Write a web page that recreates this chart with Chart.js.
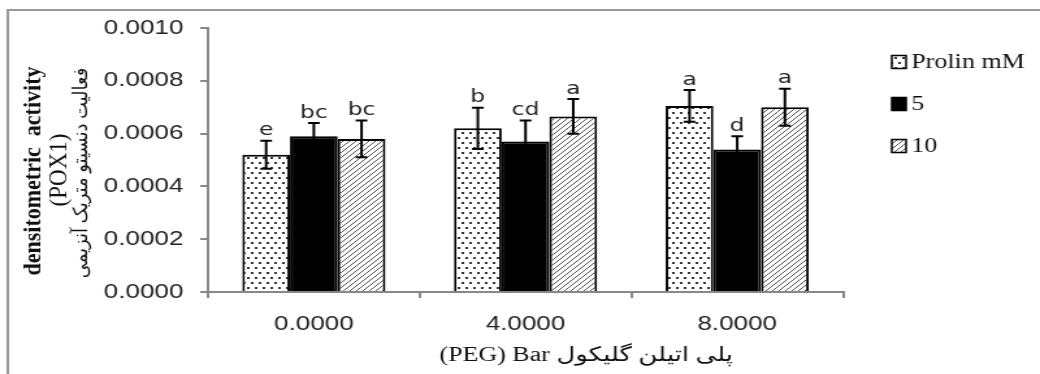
<!DOCTYPE html>
<html>
<head>
<meta charset="utf-8">
<script src="https://cdn.jsdelivr.net/npm/chart.js"></script>
<style>
  html, body { margin: 0; padding: 0; background: #fff; overflow: hidden; }
  /* the source picture is stretched sideways, so the whole chart is too */
  #wrap { width: 800px; height: 374px; transform: scaleX(1.3); transform-origin: 0 0; }
</style>
</head>
<body>
<div id="wrap"><canvas id="myChart"></canvas></div>
<script>
  // data
  var categories = ["0.0000", "4.0000", "8.0000"];
  var seriesNames = ["Prolin mM", "5", "10"];
  var prolin0 = [0.00052, 0.00062, 0.000705];
  var prolin5 = [0.00059, 0.00057, 0.00054];
  var prolin10 = [0.00058, 0.000665, 0.0007];
  var err0 = [0.000053, 0.000078, 0.00006];
  var err5 = [0.00005, 0.00008, 0.00005];
  var err10 = [0.00007, 0.000066, 0.00007];
  var letters0 = ["e", "b", "a"];
  var letters5 = ["bc", "cd", "d"];
  var letters10 = ["bc", "a", "a"];
  var yMin = 0, yMax = 0.001, yStep = 0.0002;

  var yTitle = ["densitometric  activity", "(POX1)", "فعالیت دنسیتو متریک آنزیمی"];
  // written in the order it is seen, left to right
  var xTitle = "(PEG) Bar پلی اتیلن گلیکول";

  //fill patterns
  function dotPattern() {
    var c = document.createElement('canvas');
    c.width = 6; c.height = 10;
    var g = c.getContext('2d');
    g.fillStyle = '#fff'; g.fillRect(0, 0, 6, 10);
    g.fillStyle = '#333';
    g.fillRect(1, 2, 2, 2);
    g.fillRect(4, 7, 2, 2);
    return g.createPattern(c, 'repeat');
  }
  function hatchPattern() {
    var c = document.createElement('canvas');
    c.width = 5; c.height = 5;
    var g = c.getContext('2d');
    g.fillStyle = '#fff'; g.fillRect(0, 0, 5, 5);
    g.strokeStyle = '#555'; g.lineWidth = 1;
    g.beginPath();
    g.moveTo(0, 5); g.lineTo(5, 0);
    g.moveTo(-1, 1); g.lineTo(1, -1);
    g.moveTo(4, 6); g.lineTo(6, 4);
    g.stroke();
    return g.createPattern(c, 'repeat');
  }

  var errors = [err0, err5, err10];
  var letters = [letters0, letters5, letters10];

  // frame round the picture
  var framePlugin = {
    id: 'frame',
    beforeDraw: function(chart) {
      var ctx = chart.ctx;
      ctx.save();
      ctx.strokeStyle = '#999'; ctx.lineWidth = 2;
      ctx.beginPath();
      ctx.moveTo(6, chart.height); ctx.lineTo(6, 10); ctx.lineTo(chart.width, 10);
      ctx.stroke();
      ctx.restore();
    }
  };

  // error bars + letters
  var errorPlugin = {
    id: 'errorBars',
    afterDatasetsDraw: function(chart) {
      var ctx = chart.ctx, y = chart.scales.y;
      ctx.save();
      chart.data.datasets.forEach(function(ds, i) {
        var meta = chart.getDatasetMeta(i);
        meta.data.forEach(function(bar, j) {
          var v = ds.data[j], e = errors[i][j];
          var top = y.getPixelForValue(v + e), bot = y.getPixelForValue(v - e);
          ctx.strokeStyle = '#000'; ctx.lineWidth = 2;
          ctx.beginPath();
          ctx.moveTo(bar.x, top); ctx.lineTo(bar.x, bot);
          ctx.moveTo(bar.x - 4.5, top); ctx.lineTo(bar.x + 4.5, top);
          ctx.moveTo(bar.x - 4.5, bot); ctx.lineTo(bar.x + 4.5, bot);
          ctx.stroke();
          ctx.fillStyle = '#222';
          ctx.font = '18px "DejaVu Sans"';
          ctx.textAlign = 'center'; ctx.textBaseline = 'bottom';
          ctx.fillText(letters[i][j], bar.x, top - 1);
        });
      });
      ctx.restore();
    }
  };

  // axis titles and legend
  var textPlugin = {
    id: 'texts',
    afterDraw: function(chart) {
      var ctx = chart.ctx;
      ctx.save();
      var lines = [
        { t: yTitle[0], f: 'bold 22px "Liberation Serif"', x: 26, y: 171 },
        { t: yTitle[1], f: '23px "Liberation Serif"', x: 45.5, y: 170 },
        { t: yTitle[2], f: '18px "Liberation Serif", "DejaVu Sans"', x: 62.5, y: 173 }
      ];
      ctx.fillStyle = '#111';
      ctx.textAlign = 'center'; ctx.textBaseline = 'middle';
      lines.forEach(function(l) {
        ctx.save();
        ctx.translate(l.x, l.y);
        ctx.scale(0.85, 1);
        ctx.rotate(-Math.PI / 2);
        ctx.font = l.f;
        ctx.fillText(l.t, 0, 0);
        ctx.restore();
      });

      ctx.font = '20px "Liberation Serif", "DejaVu Sans", serif';
      ctx.textAlign = 'left';
      ctx.fillText(xTitle, 338, 356);

      var legendY = [62, 104, 146];
      chart.data.datasets.forEach(function(ds, i) {
        ctx.fillStyle = ds.backgroundColor;
        ctx.fillRect(686, legendY[i] - 6.5, 11, 13);
        ctx.strokeStyle = '#000'; ctx.lineWidth = 1.5;
        ctx.strokeRect(686, legendY[i] - 6.5, 11, 13);
        ctx.fillStyle = '#111';
        ctx.font = '20px "Liberation Serif"';
        ctx.textAlign = 'left'; ctx.textBaseline = 'middle';
        ctx.fillText(ds.label, 701, legendY[i] + 1);
      });
      ctx.restore();
    }
  };

  var tickFont = { family: 'Liberation Sans', size: 20 };

  var ctx = document.getElementById("myChart").getContext('2d');
  var myChart = new Chart(ctx, {
    type: 'bar',
    data: {
      labels: categories,
      datasets: [{
        label: seriesNames[0],
        data: prolin0,
        backgroundColor: dotPattern(),
        borderColor: '#000', borderWidth: 2,
        categoryPercentage: 0.676, barPercentage: 1
      },
      {
        label: seriesNames[1],
        data: prolin5,
        backgroundColor: '#000',
        borderColor: '#000', borderWidth: 2,
        categoryPercentage: 0.676, barPercentage: 1
      },
      {
        label: seriesNames[2],
        data: prolin10,
        backgroundColor: hatchPattern(),
        borderColor: '#000', borderWidth: 2,
        categoryPercentage: 0.676, barPercentage: 1
      }]
    },
    options: {
      responsive: true,
      maintainAspectRatio: false,
      animation: false,
      layout: { padding: { top: 28, right: 151.5, left: 0, bottom: 0 } },
      plugins: { legend: { display: false }, tooltip: { enabled: false } },
      scales: {
        x: {
          grid: { drawOnChartArea: false, offset: true, tickLength: 6, color: '#888', lineWidth: 2 },
          border: { color: '#888', width: 2 },
          ticks: { padding: 14, color: '#222', font: tickFont },
          afterFit: function(s) { s.height = 82; }
        },
        y: {
          min: yMin, max: yMax,
          grid: { drawOnChartArea: false, tickLength: 6, color: '#888', lineWidth: 2 },
          border: { color: '#888', width: 2 },
          ticks: {
            stepSize: yStep, padding: 13, color: '#222', font: tickFont,
            callback: function(v) { return v.toFixed(4); }
          },
          afterFit: function(s) { s.width = 160; }
        }
      }
    },
    plugins: [framePlugin, errorPlugin, textPlugin]
  });
</script>
</body>
</html>
